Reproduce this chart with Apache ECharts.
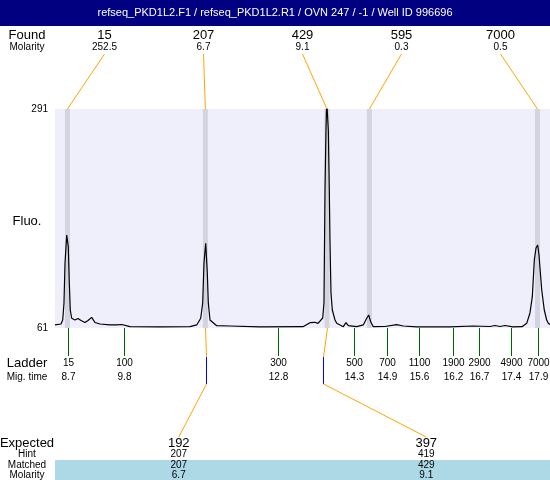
<!DOCTYPE html>
<html><head><meta charset="utf-8">
<script src="https://cdn.jsdelivr.net/npm/echarts@6/dist/echarts.min.js"></script>
<style>html,body{margin:0;padding:0;background:#fff}#c{width:550px;height:480px}</style>
</head><body><div id="c"></div>
<script>
const titleText = 'refseq_PKD1L2.F1 / refseq_PKD1L2.R1 / OVN 247 / -1 / Well ID 996696';
const timeRange = [8.446, 18.135];
const fluoRange = [61, 291];
const yTicks = [61, 291];
const traceTime = [8.446,8.563,8.597,8.622,8.642,8.675,8.706,8.726,8.745,8.773,8.798,8.837,8.896,8.955,9.033,9.092,9.164,9.229,9.327,9.522,9.654,9.752,9.914,10.501,11.088,11.220,11.298,11.337,11.362,11.396,11.427,11.447,11.480,11.611,11.871,12.458,13.300,13.437,13.535,13.594,13.686,13.711,13.731,13.750,13.764,13.780,13.796,13.815,13.829,13.848,13.874,13.927,13.960,14.089,14.142,14.187,14.351,14.480,14.547,14.586,14.625,14.676,14.905,15.134,15.263,15.526,16.178,16.628,16.960,17.058,17.156,17.254,17.411,17.587,17.679,17.743,17.789,17.828,17.861,17.894,17.920,17.939,17.973,18.023,18.070,18.102,18.135];
const traceFluo = [64.2,65.2,69.4,87.3,129.3,158.7,146.4,108.3,79.9,71.2,69.9,69.4,71.0,68.9,66.8,68.9,72.2,66.8,65.2,64.2,64.2,64.7,62.4,62.1,62.4,64.2,71.2,87.3,129.3,150.0,118.8,87.3,69.4,63.4,63.1,62.1,62.4,66.6,67.0,65.9,71.5,87.3,205.9,269.0,300,300,269.0,205.9,150.3,97.8,79.9,69.4,65.9,62.4,66.6,63.4,62.4,64.2,71.2,74.7,67.6,62.4,62.6,64.5,63.1,62.1,62.1,63.1,62.6,63.6,62.6,63.6,62.1,62.4,65.9,76.8,93.9,132.4,145.0,148.2,137.7,124.0,100.9,79.9,69.4,65.9,64.7];
const foundSize = ['15','207','429','595','7000'];
const foundMolarity = ['252.5','6.7','9.1','0.3','0.5'];
const foundTime = [8.69, 11.39, 13.77, 14.60, 17.89];
const ladderSize = ['15','100','300','500','700','1100','1900','2900','4900','7000'];
const ladderTime = [8.70, 9.80, 12.81, 14.30, 14.94, 15.57, 16.24, 16.74, 17.37, 17.90];
const expectedSize = ['192','397'];
const expectedTime = [11.40, 13.69];
const hintSize = ['207','419'];
const matchedSize = ['207','429'];
const matchedTime = [11.39, 13.77];
const matchedMolarity = ['6.7','9.1'];

const FONT = '"Liberation Sans", Arial, sans-serif';
const chart = echarts.init(document.getElementById('c'), null, {renderer:'canvas'});
const option = {
  animation: false,
  grid: {left:55, right:0, top:109, bottom:152, show:true, backgroundColor:'#efeffc', borderWidth:0},
  xAxis: {type:'value', min:timeRange[0], max:timeRange[1], show:false},
  yAxis: {type:'value', min:fluoRange[0], max:fluoRange[1],
    axisLine:{show:false}, axisTick:{show:false}, splitLine:{show:false},
    axisLabel:{customValues:yTicks, color:'#000', fontSize:10, margin:7, fontFamily:FONT}},
  series: [{
    type:'line', data: traceTime.map((t,i)=>[t, traceFluo[i]]), symbol:'none', clip:true,
    lineStyle:{color:'#000', width:1.2}, z:5,
    markArea:{silent:true, itemStyle:{color:'#d4d4e0'},
      data: foundTime.map(t=>[{xAxis:t-0.049},{xAxis:t+0.049}])}
  }]
};
chart.setOption(option);

const px = t => chart.convertToPixel({gridIndex:0}, [t, fluoRange[0]])[0];
const py = v => chart.convertToPixel({gridIndex:0}, [timeRange[0], v])[1];
const gL = px(timeRange[0]), gR = px(timeRange[1]);
const gT = py(fluoRange[1]), gB = py(fluoRange[0]);
const gW = gR - gL;
const g = [];
function txt(x, y, s, size, opt) {
  g.push({type:'text', x, y, z:10, style:Object.assign({text:s, fill:'#000', font:size+'px '+FONT, align:'center', verticalAlign:'middle'}, opt||{})});
}
function line(x1, y1, x2, y2, color) {
  g.push({type:'line', z:8, shape:{x1,y1,x2,y2}, style:{stroke:color, lineWidth:1}});
}
// title bar
g.push({type:'rect', z:1, shape:{x:0, y:0, width:550, height:26}, style:{fill:'#000080'}});
txt(275, 13, titleText, 11, {fill:'#fff'});
// found row
txt(27, 35, 'Found', 13);
txt(27, 47, 'Molarity', 10);
foundSize.forEach((s, i) => {
  const lx = gL + gW * (i + 0.5) / foundSize.length;
  txt(lx, 35, s, 13);
  txt(lx, 47, foundMolarity[i], 10);
  line(lx, 54, px(foundTime[i]), gT, '#ffa500');
});
txt(27, 221, 'Fluo.', 13);
// ladder
txt(27, 363, 'Ladder', 13);
txt(27, 377, 'Mig. time', 10);
ladderSize.forEach((s, i) => {
  const x = Math.round(px(ladderTime[i])) + 0.5;
  line(x, gB, x, gB + 28, '#006400');
  txt(x, 363, s, 10);
  txt(x, 377, ladderTime[i].toFixed(1), 10);
});
// expected / matched
g.push({type:'rect', z:1, shape:{x:gL, y:460, width:gW, height:20}, style:{fill:'#add8e6'}});
txt(27, 443, 'Expected', 13);
txt(27, 454, 'Hint', 10);
txt(27, 465, 'Matched', 10);
txt(27, 475, 'Molarity', 10);
expectedSize.forEach((s, i) => {
  const lx = gL + gW * (i + 0.5) / expectedSize.length;
  const xm = Math.round(px(matchedTime[i])) + 0.5;
  const xe = Math.round(px(expectedTime[i])) + 0.5;
  line(xm, gB, xe, gB + 29, '#ffa500');
  line(xe, gB + 29, xe, gB + 56, '#0000ff');
  line(xe, gB + 56, lx, 437, '#ffa500');
  txt(lx, 443, s, 13);
  txt(lx, 454, hintSize[i], 10);
  txt(lx, 465, matchedSize[i], 10);
  txt(lx, 475, matchedMolarity[i], 10);
});
chart.setOption({graphic: g});
</script></body></html>
